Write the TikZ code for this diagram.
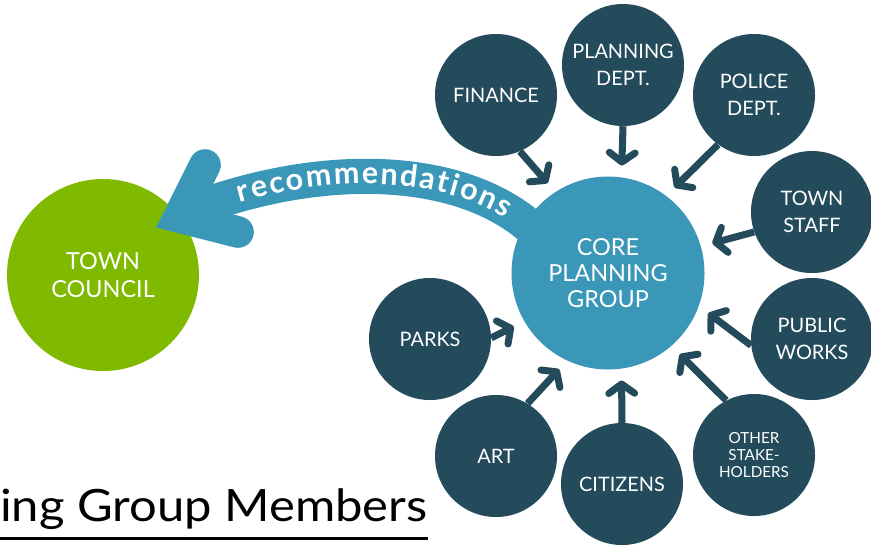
\documentclass[tikz,border=0pt]{standalone}
\usepackage{fontspec}
\setmainfont{Lato}
\newfontfamily\headingfont{Lato}[FakeStretch=1.1]
\usetikzlibrary{arrows.meta,decorations.text}

\definecolor{deepteal}{HTML}{234B5B}
\definecolor{coreblue}{HTML}{3B97B8}
\definecolor{councilgreen}{HTML}{7FBA00}

\begin{document}
\begin{tikzpicture}[x=0.03cm, y=-0.03cm,
    member/.style={circle, fill=deepteal, text=white, minimum size=3.66cm,
      inner sep=0pt, align=center, font=\fontsize{17}{22.5}\selectfont},
    hub/.style={circle, fill=coreblue, text=white, minimum size=5.79cm,
      inner sep=0pt, align=center, font=\fontsize{20}{22.5}\selectfont},
    council/.style={circle, fill=councilgreen, text=white, minimum size=5.76cm,
      inner sep=0pt, align=center, font=\fontsize{20}{24}\selectfont},
    feed/.style={draw=deepteal, line width=6pt,
      -{Straight Barb[length=8pt, width=22pt, round]}, shorten >=10pt},
    band/.style={draw=coreblue, line width=30pt},
    chevron/.style={draw=coreblue, line width=27pt, line cap=round, line join=miter},
    heading/.style={inner sep=0pt, font=\headingfont\fontsize{38}{42}\selectfont}
  ]
  \useasboundingbox (0,0) rectangle (871,548);

  % --- town council on the left ---
  \node[council] (town) at (103,275) {TOWN\\COUNCIL};

  % --- the recommendations band, core -> council ---
  \coordinate (bandR) at (540,236);
  \coordinate (bandL) at (200,207);
  \coordinate (armU) at (205,165);
  \coordinate (armT) at (179,217);
  \coordinate (armL) at (238,232);
  \draw[band] (bandR) .. controls (470,165) and (330,160) .. (bandL);
  \draw[chevron] (armU) -- (armT) -- (armL);
  \path[decorate, decoration={text along path,
      text={|\fontsize{26}{26}\selectfont\bfseries\color{white}|recommendations},
      text align={left indent=34pt, right indent=34pt, fit to path},
      raise=-6.5pt}]
    (bandL) .. controls (330,160) and (470,165) .. (bandR);

  % --- core group and its members ---
  \node[hub] (core) at (608,273) {CORE\\PLANNING\\GROUP};

  \node[member] (finance)  at (496,95)  {FINANCE};
  \node[member] (planning) at (623,65)  {PLANNING\\DEPT.};
  \node[member] (police)   at (754,95)  {POLICE\\DEPT.};
  \node[member] (staff)    at (812,212) {TOWN\\STAFF};
  \node[member] (works)    at (812,339) {PUBLIC\\WORKS};
  \node[member, font=\fontsize{13}{14.5}\selectfont]
                (others)   at (754,455) {OTHER\\STAKE-\\HOLDERS};
  \node[member] (citizens) at (622,484) {CITIZENS};
  \node[member] (art)      at (496,456) {ART};
  \node[member] (parks)    at (430,339) {PARKS};

  % --- every member feeds the core ---
  \draw[feed] (finance.-67)  -- (core.123);
  \draw[feed] (planning.-90) -- (core.82);
  \draw[feed] (police.-126)  -- (core.53);
  \draw[feed] (staff.-161)   -- (core.16);
  \draw[feed] (works.-174)   -- (core.-20);
  \draw[feed] (others.117)   -- (core.-49);
  \draw[feed] (citizens.90)  -- (core.-82);
  \draw[feed] (art.59)       -- (core.-115);
  \draw[feed] (parks.1)      -- (core.-150);

  % --- heading, cut at the left edge ---
  \node[heading, anchor=base west] (title) at (0,521) {ing Group Members};
  \draw[line width=2pt] ([yshift=-15pt]title.base west) -- ([yshift=-15pt]title.base east);
\end{tikzpicture}
\end{document}
